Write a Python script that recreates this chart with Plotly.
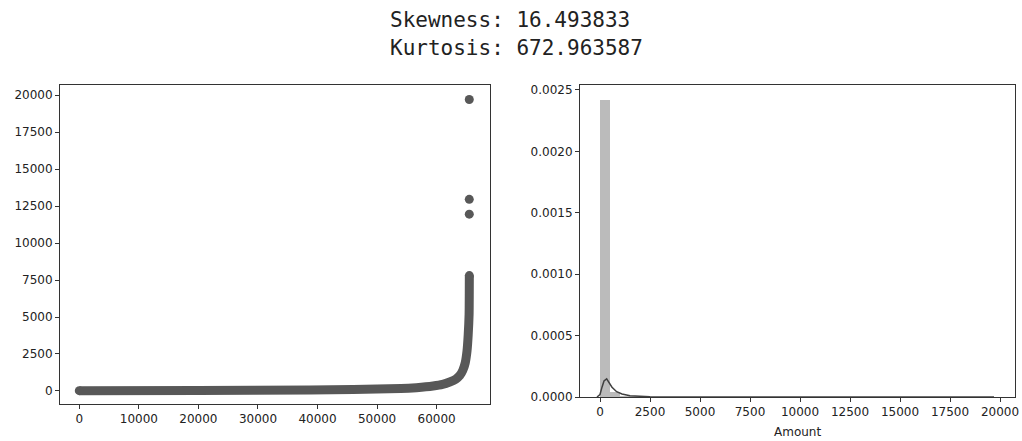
import plotly.graph_objects as go

# ---- data ----
title_lines = ["Skewness: 16.493833", "Kurtosis: 672.963587"]

# left panel: sorted amounts vs index (main band + outliers)
band_index = [0, 20000, 38700, 54000, 56600, 59400, 61000, 62200, 63200, 63900,
              64400, 64800, 65100, 65300, 65450, 65480, 65490]
band_amount = [20, 30, 70, 160, 225, 340, 450, 610, 800, 1050,
               1400, 1900, 2700, 3800, 5200, 6600, 7800]
outlier_index = [65480, 65480, 65480]
outlier_amount = [11950, 12950, 19700]

left_xticks = [0, 10000, 20000, 30000, 40000, 50000, 60000]
left_yticks = [0, 2500, 5000, 7500, 10000, 12500, 15000, 17500, 20000]

# right panel: histogram (density) + KDE
bin_edges = [0, 492, 984, 1476, 1968]
bin_density = [0.00242, 0.00004, 0.000012, 0.000005]
kde_x = [-150, 0, 100, 200, 333, 450, 600, 833, 1100, 1500, 2000, 2500, 3500, 5000, 19700]
kde_y = [0.0, 0.00002, 0.00008, 0.00013, 0.000147, 0.00012, 0.00008, 0.000043,
         0.000025, 0.00001, 0.000004, 0.000002, 0.000001, 0.0000005, 0.0]
right_xticks = [0, 2500, 5000, 7500, 10000, 12500, 15000, 17500, 20000]
right_yticks = [0.0, 0.0005, 0.0010, 0.0015, 0.0020, 0.0025]
xlabel_right = "Amount"

W, H = 1022, 441
PT_COLOR = "#585858"
AX_COLOR = "#333333"
FONT = "DejaVu Sans"

fig = go.Figure()

fig.add_trace(go.Scatter(
    x=band_index, y=band_amount, mode="lines",
    line=dict(color=PT_COLOR, width=9, shape="spline", smoothing=0.6),
    xaxis="x", yaxis="y", showlegend=False, hoverinfo="skip"))
fig.add_trace(go.Scatter(
    x=[band_index[0], band_index[-1]], y=[band_amount[0], band_amount[-1]], mode="markers",
    marker=dict(color=PT_COLOR, size=9),
    xaxis="x", yaxis="y", showlegend=False, hoverinfo="skip"))
fig.add_trace(go.Scatter(
    x=outlier_index, y=outlier_amount, mode="markers",
    marker=dict(color=PT_COLOR, size=9),
    xaxis="x", yaxis="y", showlegend=False))

centers = [(bin_edges[i] + bin_edges[i + 1]) / 2 for i in range(len(bin_density))]
widths = [bin_edges[i + 1] - bin_edges[i] for i in range(len(bin_density))]
fig.add_trace(go.Bar(
    x=centers, y=bin_density, width=widths,
    marker=dict(color="rgba(120,120,120,0.5)", line=dict(width=0)),
    xaxis="x2", yaxis="y2", showlegend=False))
fig.add_trace(go.Scatter(
    x=kde_x, y=kde_y, mode="lines",
    line=dict(color="#404040", width=1.5),
    xaxis="x2", yaxis="y2", showlegend=False))

def ax(**kw):
    base = dict(showline=True, linecolor=AX_COLOR, linewidth=1, mirror=True,
                ticks="outside", ticklen=4, tickcolor=AX_COLOR, showgrid=False,
                zeroline=False, automargin=False,
                tickfont=dict(family=FONT, size=12, color="#222"))
    base.update(kw)
    return base

fig.update_layout(
    width=W, height=H,
    margin=dict(l=0, r=0, t=0, b=0),
    paper_bgcolor="white", plot_bgcolor="white",
    bargap=0,
    xaxis=ax(domain=[60 / W, 490 / W], range=[-3240, 68960],
             tickvals=left_xticks, ticktext=[str(v) for v in left_xticks], anchor="y"),
    yaxis=ax(domain=[1 - 404 / H, 1 - 85 / H], range=[-880, 20680],
             tickvals=left_yticks, ticktext=[str(v) for v in left_yticks], anchor="x"),
    xaxis2=ax(domain=[580 / W, 1015 / W], range=[-1000, 20750],
              tickvals=right_xticks, ticktext=[str(v) for v in right_xticks], anchor="y2"),
    yaxis2=ax(domain=[1 - 397 / H, 1 - 85 / H], range=[0, 0.00254],
              tickvals=right_yticks, ticktext=["%.4f" % v for v in right_yticks], anchor="x2"),
)

for i, line in enumerate(title_lines):
    fig.add_annotation(text=line, xref="paper", yref="paper",
                       x=388 / W, y=1 - (20 + 28 * i) / H, xanchor="left", yanchor="middle",
                       showarrow=False,
                       font=dict(family="DejaVu Sans Mono", size=21, color="#222"))
fig.add_annotation(text=xlabel_right, xref="paper", yref="paper",
                   x=797 / W, y=1 - 432 / H, xanchor="center", yanchor="middle",
                   showarrow=False, font=dict(family=FONT, size=12, color="#222"))

fig.write_html("out.html", config={"displayModeBar": False},
               post_script="document.body.style.margin='0';document.body.style.overflow='hidden';")
